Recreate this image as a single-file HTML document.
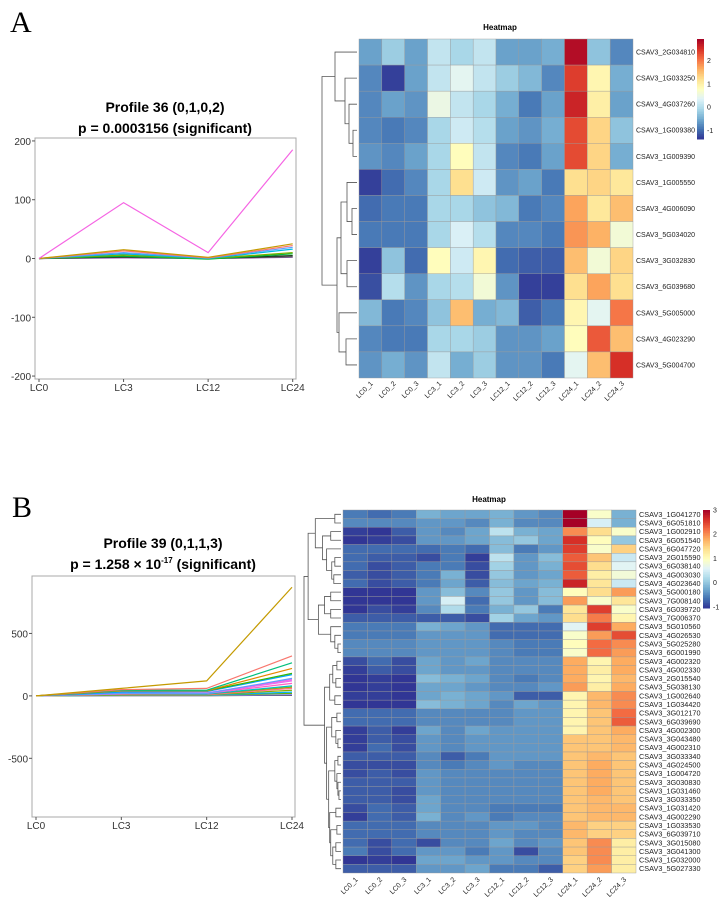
<!DOCTYPE html>
<html><head><meta charset="utf-8">
<style>
html,body{margin:0;padding:0;background:#fff;}
svg{display:block;font-family:"Liberation Sans",sans-serif;}
</style></head>
<body>
<svg id="fig" width="726" height="906" viewBox="0 0 726 906">
<text x="10" y="32" font-family="Liberation Serif,serif" font-size="30">A</text>
<text x="12" y="517" font-family="Liberation Serif,serif" font-size="30">B</text>
<text x="165" y="112" text-anchor="middle" font-size="14" font-weight="bold">Profile 36 (0,1,0,2)</text>
<text x="165" y="133" text-anchor="middle" font-size="14" font-weight="bold">p = 0.0003156 (significant)</text>
<text x="163" y="548" text-anchor="middle" font-size="14" font-weight="bold">Profile 39 (0,1,1,3)</text>
<text x="163" y="569" text-anchor="middle" font-size="14" font-weight="bold">p = 1.258 × 10<tspan font-size="8" dy="-6">-17</tspan><tspan dy="6"> (significant)</tspan></text>
<text x="500" y="30" text-anchor="middle" font-size="8" font-weight="bold">Heatmap</text>
<text x="489" y="502" text-anchor="middle" font-size="8" font-weight="bold">Heatmap</text>
<g id="root"></g>
</svg>
<script>
const timePoints = ["LC0","LC3","LC12","LC24"];
const profileATicks = [200,100,0,-100,-200];
const profileASeries = [
 [0,95,10,185],[0,15,2,25],[0,13,1,22],[0,10,1,19],[0,8,0,16],[0,6,0,10],[0,4,-1,8],[0,3,0,5],[0,2,0,3],[0,1,0,2]
];
const profileAColors = ["#F564E3","#C49A00","#F8766D","#619CFF","#00B9E3","#7CAE00","#00BA38","#1a3a1a","#555555","#9e5cc6"];
const profileBTicks = [500,0,-500];
const profileBSeries = [
 [0,60,120,870],[0,50,60,320],[0,45,45,265],[0,40,40,220],[0,40,40,180],[0,30,35,170],[0,20,20,140],[0,25,25,130],[0,20,20,120],[0,15,20,100],[0,15,15,80],[0,10,15,70],[0,10,10,60],[0,8,8,45],[0,6,6,30],[0,5,5,20],[0,3,3,10],[0,2,2,5]
];
const profileBColors = ["#C49A00","#F8766D","#00BF7D","#E58700","#39B600","#00A5FF","#619CFF","#F564E3","#E76BF3","#FF61C3","#00BFC4","#A3A500","#FF6C91","#8AAB00","#00B0F6","#6BB100","#9590FF","#333333"];

const heatCols = ["LC0_1","LC0_2","LC0_3","LC3_1","LC3_2","LC3_3","LC12_1","LC12_2","LC12_3","LC24_1","LC24_2","LC24_3"];
const heatARows = ["CSAV3_2G034810","CSAV3_1G033250","CSAV3_4G037260","CSAV3_1G009380","CSAV3_1G009390","CSAV3_1G005550","CSAV3_4G006090","CSAV3_5G034020","CSAV3_3G032830","CSAV3_6G039680","CSAV3_5G005000","CSAV3_4G023290","CSAV3_5G004700"];
const heatAValues = [
[-0.6,-0.2,-0.6,0.1,-0.1,0.1,-0.6,-0.6,-0.5,2.8,-0.3,-0.8],
[-0.8,-1.3,-0.6,0.1,0.4,0.1,-0.2,-0.4,-0.8,2.4,0.9,-0.5],
[-0.8,-0.6,-0.7,0.5,0.1,-0.1,-0.5,-0.9,-0.6,2.6,1.0,-0.6],
[-0.8,-0.9,-0.8,-0.1,0.2,0.0,-0.6,-0.7,-0.5,2.3,1.3,-0.3],
[-0.7,-0.8,-0.6,-0.1,0.8,0.1,-0.8,-0.9,-0.6,2.3,1.3,-0.5],
[-1.3,-1.0,-0.8,-0.1,1.2,0.2,-0.7,-0.6,-0.9,1.2,1.3,1.1],
[-1.0,-0.9,-0.9,-0.1,-0.1,-0.3,-0.4,-0.9,-0.8,1.7,1.1,1.5],
[-0.9,-0.9,-0.9,-0.1,0.3,0.0,-0.8,-0.8,-0.9,1.8,1.6,0.6],
[-1.3,-0.3,-1.0,0.8,0.2,0.9,-1.0,-1.1,-1.1,1.5,0.6,1.3],
[-1.2,0.0,-0.7,-0.1,0.0,0.6,-0.7,-1.3,-1.3,1.2,1.7,1.2],
[-0.4,-0.9,-0.8,-0.3,1.5,-0.5,-0.4,-1.1,-0.9,0.9,0.4,2.0],
[-0.8,-0.9,-0.9,-0.1,-0.1,-0.2,-0.7,-0.7,-0.6,0.8,2.2,1.5],
[-0.7,-0.5,-0.7,0.1,-0.5,-0.2,-0.7,-0.7,-0.9,0.4,1.5,2.5]
];
const heatBRows = ["CSAV3_1G041270","CSAV3_6G051810","CSAV3_1G002910","CSAV3_6G051540","CSAV3_6G047720","CSAV3_2G015590","CSAV3_6G038140","CSAV3_4G003030","CSAV3_4G023640","CSAV3_5G000180","CSAV3_7G008140","CSAV3_6G039720","CSAV3_7G006370","CSAV3_5G010560","CSAV3_4G026530","CSAV3_5G025280","CSAV3_6G001990","CSAV3_4G002320","CSAV3_4G002330","CSAV3_2G015540","CSAV3_5G038130","CSAV3_1G002640","CSAV3_1G034420","CSAV3_3G012170","CSAV3_6G039690","CSAV3_4G002300","CSAV3_3G043480","CSAV3_4G002310","CSAV3_3G033340","CSAV3_4G024500","CSAV3_1G004720","CSAV3_3G030830","CSAV3_1G031460","CSAV3_3G033350","CSAV3_1G031420","CSAV3_4G002290","CSAV3_1G033530","CSAV3_6G039710","CSAV3_3G015080","CSAV3_3G041300","CSAV3_1G032000","CSAV3_5G027330"];
const heatBValues = [
[-0.6,-0.7,-0.6,-0.2,-0.3,-0.3,-0.2,-0.4,-0.5,3.0,0.9,-0.2],
[-0.5,-0.5,-0.5,-0.4,-0.4,-0.5,-0.2,-0.5,-0.5,3.0,0.5,-0.2],
[-1.0,-1.3,-0.8,-0.4,-0.5,-0.3,0.3,-0.2,-0.3,2.0,1.4,0.9],
[-1.1,-1.0,-0.9,-0.4,-0.4,-0.3,-0.1,0.0,-0.3,2.6,1.0,0.0],
[-0.7,-0.7,-0.7,-0.7,-0.6,-0.7,-0.1,-0.6,-0.4,2.5,0.9,1.5],
[-0.7,-0.8,-0.8,-0.9,-0.6,-1.0,0.3,-0.4,-0.1,2.3,1.6,0.4],
[-0.7,-0.9,-0.8,-0.6,-0.6,-0.9,0.1,-0.4,-0.2,2.4,1.4,0.6],
[-0.8,-0.9,-0.8,-0.6,-0.2,-0.9,0.0,-0.4,-0.3,2.3,1.2,0.8],
[-0.7,-0.9,-0.8,-0.6,-0.3,-0.8,-0.1,-0.3,-0.2,2.7,1.3,0.4],
[-1.2,-1.3,-1.3,-0.4,-0.1,-0.5,0.0,-0.4,-0.1,1.0,1.4,1.9],
[-1.2,-1.3,-1.3,-0.4,0.5,-0.7,0.0,-0.4,-0.1,1.9,0.9,1.3],
[-1.1,-0.9,-1.0,-0.5,0.2,-0.6,-0.2,0.0,-0.6,1.3,2.5,0.9],
[-0.8,-0.8,-0.8,-0.8,-0.8,-0.9,0.1,-0.3,-0.4,1.4,2.1,1.1],
[-0.6,-0.6,-0.6,-0.2,-0.3,-0.4,-0.7,-0.7,-0.7,0.6,2.5,1.8],
[-0.6,-0.6,-0.6,-0.4,-0.4,-0.4,-0.7,-0.7,-0.7,0.9,1.9,2.4],
[-0.5,-0.5,-0.5,-0.4,-0.4,-0.4,-0.5,-0.6,-0.6,1.0,2.2,2.0],
[-0.5,-0.5,-0.5,-0.4,-0.4,-0.4,-0.5,-0.6,-0.6,0.9,2.2,1.9],
[-0.9,-0.7,-0.9,-0.3,-0.4,-0.3,-0.5,-0.5,-0.5,1.8,1.1,1.8],
[-1.0,-0.8,-0.9,-0.3,-0.4,-0.4,-0.5,-0.5,-0.5,1.8,1.2,1.8],
[-1.1,-1.0,-1.1,-0.1,-0.2,-0.3,-0.5,-0.6,-0.5,1.8,1.1,1.7],
[-1.1,-1.0,-1.1,-0.3,-0.3,-0.4,-0.5,-0.5,-0.4,1.9,1.2,1.8],
[-1.0,-1.0,-1.1,-0.3,-0.2,-0.3,-0.4,-0.8,-0.8,1.1,1.7,2.0],
[-1.2,-1.2,-1.2,-0.1,-0.2,-0.3,-0.5,-0.3,-0.4,1.1,1.7,2.0],
[-0.7,-0.7,-0.7,-0.5,-0.5,-0.5,-0.5,-0.4,-0.4,1.1,1.6,2.2],
[-0.7,-0.7,-0.7,-0.5,-0.5,-0.5,-0.5,-0.4,-0.4,1.1,1.6,2.3],
[-1.0,-0.8,-1.0,-0.3,-0.5,-0.3,-0.4,-0.4,-0.4,1.1,1.6,1.8],
[-1.0,-0.8,-0.9,-0.4,-0.5,-0.4,-0.4,-0.4,-0.4,1.6,1.6,1.7],
[-1.0,-0.7,-0.9,-0.4,-0.5,-0.4,-0.4,-0.4,-0.4,1.6,1.6,1.7],
[-0.8,-0.8,-0.8,-0.5,-0.8,-0.6,-0.4,-0.4,-0.4,1.6,1.7,1.6],
[-0.9,-0.9,-0.9,-0.5,-0.6,-0.5,-0.4,-0.5,-0.5,1.6,1.8,1.6],
[-0.9,-0.8,-0.9,-0.4,-0.5,-0.5,-0.5,-0.5,-0.5,1.6,1.8,1.6],
[-0.8,-0.8,-0.8,-0.4,-0.5,-0.5,-0.5,-0.5,-0.5,1.6,1.8,1.6],
[-0.8,-0.8,-0.9,-0.4,-0.5,-0.5,-0.5,-0.5,-0.5,1.6,1.8,1.6],
[-0.8,-0.8,-0.9,-0.3,-0.5,-0.5,-0.5,-0.5,-0.5,1.6,1.7,1.6],
[-0.9,-0.7,-0.8,-0.3,-0.5,-0.5,-0.6,-0.6,-0.6,1.6,1.7,1.7],
[-1.0,-0.7,-0.8,-0.2,-0.5,-0.4,-0.6,-0.5,-0.5,1.6,1.7,1.7],
[-0.7,-0.7,-0.7,-0.5,-0.5,-0.5,-0.4,-0.4,-0.5,1.7,1.5,1.5],
[-0.7,-0.7,-0.7,-0.5,-0.5,-0.5,-0.4,-0.5,-0.5,1.7,1.5,1.5],
[-0.7,-0.9,-0.7,-0.9,-0.5,-0.5,-0.3,-0.5,-0.4,1.6,2.0,1.2],
[-0.6,-0.9,-0.7,-0.4,-0.4,-0.6,-0.4,-0.9,-0.5,1.6,2.0,1.2],
[-1.2,-1.0,-1.1,-0.3,-0.3,-0.4,-0.4,-0.5,-0.5,1.5,2.0,1.2],
[-0.8,-0.8,-0.8,-0.4,-0.4,-0.3,-0.6,-0.6,-0.8,1.5,1.9,1.2]
];
const treeA = [[0,[1,[2,[3,4,0.4],0.8],1.2],2.2],[[[5,[6,7,0.5],1.0],[8,9,1.0],1.6],[10,[11,12,1.1],1.8],2.0],3.5];
const treeB = [[[[0,1,0.6],[[2,3,1.0],[4,[[5,6,0.6],[7,8,0.7],0.9],1.4],1.8],2.5],[[[9,10,1.0],[11,12,1.0],1.6],[13,[14,[15,16,0.3],0.6],1.0],2.2],3.2],
 [[[[17,18,0.4],[19,20,0.5],0.8],[21,22,0.6],1.1],[[[23,24,0.4],[25,[26,27,0.3],0.5],0.9],[[[28,29,0.3],[30,[31,[32,33,0.2],0.3],0.4],0.6],[[34,35,0.5],[[36,37,0.4],[[38,39,0.5],[40,41,0.5],0.8],1.0],1.1],1.2],1.4],1.6],3.6];

const NS="http://www.w3.org/2000/svg";
const root=document.getElementById('root');
function mk(tag,attrs,parent){const e=document.createElementNS(NS,tag);for(const k in attrs)e.setAttribute(k,attrs[k]);(parent||root).appendChild(e);return e;}
const pal=["#313695","#4575B4","#74ADD1","#ABD9E9","#E0F3F8","#FFFFBF","#FEE090","#FDAE61","#F46D43","#D73027","#A50026"];
function hex(h){return [1,3,5].map(i=>parseInt(h.substr(i,2),16));}
function color(v,mn,mx){let t=(v-mn)/(mx-mn);t=Math.max(0,Math.min(1,t))*(pal.length-1);const i=Math.min(pal.length-2,Math.floor(t)),f=t-i;const a=hex(pal[i]),b=hex(pal[i+1]);return "rgb("+a.map((c,k)=>Math.round(c+(b[k]-c)*f)).join(",")+")";}

function lineChart(id,box,yMin,yMax,x0,x1,ticks,series,colors){
  const g=mk('g',{});
  
  
  const xs=i=>x0+(x1-x0)*i/(timePoints.length-1);
  const ys=v=>box.y+box.h-(v-yMin)/(yMax-yMin)*box.h;
  const fr=mk('rect',{x:box.x,y:box.y,width:box.w,height:box.h,fill:'#fff',stroke:'#a8a8a8','stroke-width':1},g);
  
  
  ticks.forEach(t=>{
    const y=ys(t);
    mk('line',{x1:box.x-3,x2:box.x,y1:y,y2:y,stroke:'#555'},g);
    const tx=mk('text',{x:box.x-4,y:y+4,'text-anchor':'end','font-size':10,fill:'#333'},g);
    tx.textContent=(t<0?'-':'')+Math.abs(t);
    
    
  });
  timePoints.forEach((p,i)=>{
    const x=xs(i);
    mk('line',{x1:x,x2:x,y1:box.y+box.h,y2:box.y+box.h+3,stroke:'#555'},g);
    const tx=mk('text',{x:x,y:box.y+box.h+12,'text-anchor':'middle','font-size':10,fill:'#333'},g);
    tx.textContent=p;
    
    
  });
  for(let s=series.length-1;s>=0;s--){
    const pl=mk('polyline',{points:series[s].map((v,i)=>xs(i)+','+ys(v)).join(' '),fill:'none',stroke:colors[s%colors.length],'stroke-width':1.2},g);
    
    
  }
}
lineChart('profile-a-chart',{x:35,y:138,w:261,h:241},-205,205,39,292.7,profileATicks,profileASeries,profileAColors);
lineChart('profile-b-chart',{x:32,y:576,w:263,h:241},-970,960,36,292,profileBTicks,profileBSeries,profileBColors);

function heatmap(id,hx,hy,hw,hh,rows,vals,mn,mx,lblFont,colY,tree,dx0,dx1,cb,cbTicks){
  const g=mk('g',{});
  
  
  const cw=hw/heatCols.length,rh=hh/rows.length;
  vals.forEach((r,i)=>r.forEach((v,j)=>{
    const c=mk('rect',{x:hx+j*cw,y:hy+i*rh,width:cw,height:rh,fill:color(v,mn,mx),stroke:'#9a9a9a','stroke-width':0.4},g);
    
    
  }));
  rows.forEach((r,i)=>{
    const t=mk('text',{x:hx+hw+3,y:hy+(i+0.5)*rh+lblFont*0.35,'font-size':lblFont,fill:'#222'},g);
    t.textContent=r;
    
    
  });
  heatCols.forEach((c,j)=>{
    const x=hx+(j+0.5)*cw+3,y=colY;
    const t=mk('text',{x:x,y:y,'font-size':7,fill:'#222','text-anchor':'end',transform:'rotate(-45 '+x+' '+y+')'},g);
    t.textContent=c;
    
    
  });
  const hmax=tree[2];
  const xh=h=>dx1-(dx1-dx0)*h/hmax;
  function draw(n){
    if(typeof n==='number') return {y:hy+(n+0.5)*rh,x:dx1};
    const a=draw(n[0]),b=draw(n[1]),x=xh(n[2]);
    const p=mk('path',{d:'M'+a.x+','+a.y+'H'+x+'V'+b.y+'H'+b.x,fill:'none',stroke:'#555','stroke-width':0.8},g);
    
    
    return {x:x,y:(a.y+b.y)/2};
  }
  draw(tree);
  const n=60;
  for(let k=0;k<n;k++){
    const v=mx-(mx-mn)*(k+0.5)/n;
    mk('rect',{x:cb.x,y:cb.y+cb.h*k/n,width:cb.w,height:cb.h/n+0.5,fill:color(v,mn,mx)},g);
  }
  cbTicks.forEach(t=>{
    const y=cb.y+cb.h*(mx-t)/(mx-mn);
    const tx=mk('text',{x:cb.x+cb.w+3,y:y+2.5,'font-size':7,fill:'#222'},g);
    tx.textContent=t;
    
    
  });
}
heatmap('heatmap-a',359,39,274,339,heatARows,heatAValues,-1.37,2.92,7,384,treeA,322,357,{x:697,y:39,w:7,h:100},[2,1,0,-1]);
heatmap('heatmap-b',343,510,293,363,heatBRows,heatBValues,-1.05,3.0,7.3,880,treeB,304,341,{x:703,y:510,w:7,h:98},[3,2,1,0,-1]);
</script>
</body></html>
